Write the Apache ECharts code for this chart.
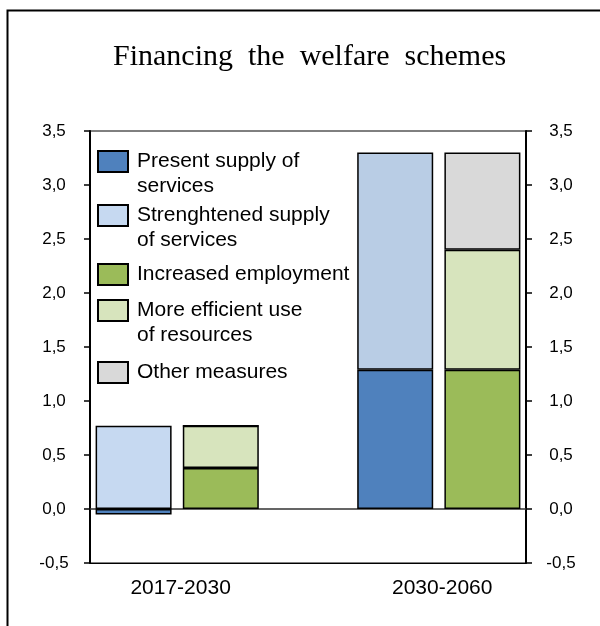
<!DOCTYPE html>
<html>
<head>
<meta charset="utf-8">
<script src="https://cdn.jsdelivr.net/npm/echarts@6/dist/echarts.min.js"></script>
<style>
html,body{margin:0;padding:0;background:#fff;}
#chart{width:600px;height:626px;}
</style>
</head>
<body>
<div id="chart"></div>
<script>
// ---- data ----
const periods = ['2017-2030', '2030-2060'];
const presentSupply = [-0.05, 1.29];
const strengthenedSupply = [0.77, 2.01];
const increasedEmployment = [0.38, 1.29];
const moreEfficientUse = [0.39, 1.11];
const otherMeasures = [0, 0.9];
const yTicks = { min: -0.5, max: 3.5, interval: 0.5 };

const seriesNames = [
  'Present supply of\nservices',
  'Strenghtened supply\nof services',
  'Increased employment',
  'More efficient use\nof resources',
  'Other measures'
];

// slots: [period1 barA, period1 barB, gap, period2 barA, period2 barB]
const slots = ['p1a', 'p1b', 'gap', 'p2a', 'p2b'];
function toSlots(values, which) {
  const out = slots.map(() => null);
  values.forEach((v, i) => { out[3 * i + which] = v; });
  return out;
}
function labelFor(index) {
  if (index % 3 === 0) return periods[index / 3];
  return '';
}

const font = 'Liberation Sans, Arial, sans-serif';
const border = { borderColor: '#000', borderWidth: 1.5 };

function barSeries(name, values, which, color) {
  return {
    name: name,
    type: 'bar',
    stack: 'all',
    barWidth: 76,
    data: toSlots(values, which),
    itemStyle: Object.assign({ color: color }, border),
    emphasis: { disabled: true }
  };
}

const s2 = barSeries(seriesNames[1], strengthenedSupply, 0, '#C6D9F1');
s2.data = s2.data.map((v, i) => (i === 3 && v != null) ? { value: v, itemStyle: { color: '#B9CDE5' } } : v);

const series = [
  barSeries(seriesNames[0], presentSupply, 0, '#4F81BD'),
  s2,
  barSeries(seriesNames[2], increasedEmployment, 1, '#9BBB59'),
  barSeries(seriesNames[3], moreEfficientUse, 1, '#D7E4BD'),
  barSeries(seriesNames[4], otherMeasures, 1, '#D9D9D9')
];

// legend: one component per entry (icon aligned with first text line)
const legendIconTops = [151, 205, 264, 300, 362];
const legends = seriesNames.map((name, i) => {
  const twoLine = name.indexOf('\n') >= 0;
  return {
    data: [name],
    left: 97,
    top: legendIconTops[i] - (twoLine ? 27 : 2),
    padding: 0,
    itemWidth: 30,
    itemHeight: 21,
    icon: 'rect',
    selectedMode: false,
    formatter: n => (n.indexOf('\n') >= 0 ? ' \n' + n : n),
    textStyle: {
      fontFamily: font,
      fontSize: 21,
      lineHeight: 25,
      color: '#000',
      padding: [0, 0, 0, 4]
    }
  };
});

const yAxisBase = {
  type: 'value',
  min: yTicks.min,
  max: yTicks.max,
  interval: yTicks.interval,
  splitLine: { show: false },
  axisLine: { show: true, lineStyle: { color: '#000', width: 2 } },
  axisTick: { show: true, length: 6, lineStyle: { color: '#000', width: 1.5 } },
  axisLabel: {
    color: '#000',
    fontFamily: font,
    fontSize: 17,
    align: 'center',
    padding: [7, 0, 0, 0],
    formatter: v => v.toFixed(1).replace('.', ',')
  }
};

const chart = echarts.init(document.getElementById('chart'), null, { renderer: 'canvas' });
chart.setOption({
  animation: false,
  backgroundColor: '#fff',
  title: {
    text: 'Financing  the  welfare  schemes',
    left: 113,
    top: 42,
    padding: 0,
    textStyle: { fontFamily: 'Liberation Serif, Times New Roman, serif', fontSize: 30, fontWeight: 'normal', color: '#000' }
  },
  legend: legends,
  grid: {
    left: 90, right: 74, top: 131, bottom: 63,
    show: true, borderColor: '#000', borderWidth: 1, backgroundColor: 'transparent'
  },
  xAxis: [
    {
      type: 'category',
      data: slots,
      axisLine: { show: true, onZero: false, lineStyle: { color: '#000', width: 1 } },
      axisTick: { show: false },
      axisLabel: {
        interval: 0,
        color: '#000',
        fontFamily: font,
        fontSize: 21,
        margin: 15,
        padding: [0, 0, 0, 94],
        formatter: (v, i) => labelFor(i)
      }
    },
    {
      type: 'category',
      data: slots,
      axisLine: { show: true, onZero: true, onZeroAxisIndex: 0, lineStyle: { color: '#333', width: 1.5 } },
      axisTick: { show: false },
      axisLabel: { show: false }
    }
  ],
  yAxis: [
    Object.assign({}, yAxisBase, { position: 'left', axisLabel: Object.assign({}, yAxisBase.axisLabel, { margin: 36 }) }),
    Object.assign({}, yAxisBase, { position: 'right', axisLabel: Object.assign({}, yAxisBase.axisLabel, { margin: 35 }) })
  ],
  series: series,
  graphic: [
    {
      type: 'polyline',
      silent: true,
      shape: { points: [[7.5, 626], [7.5, 10.5], [600, 10.5]] },
      style: { stroke: '#000', lineWidth: 2, fill: null }
    }
  ]
});
</script>
</body>
</html>
